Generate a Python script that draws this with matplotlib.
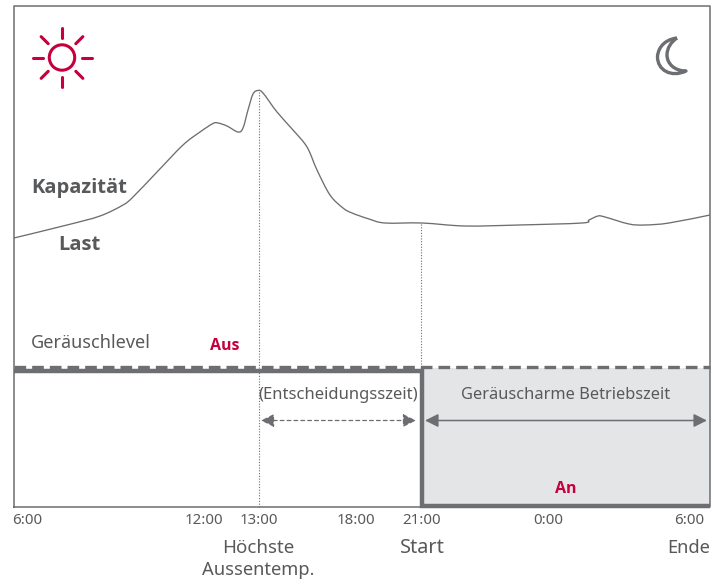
import numpy as np
import matplotlib

matplotlib.use('Agg')
import matplotlib.pyplot as plt
from matplotlib.patches import Circle, PathPatch
from matplotlib.path import Path

plt.rcParams['font.family'] = ['Noto Sans', 'DejaVu Sans']

# everything in pixels
curve_x = [14, 67, 100, 123, 133, 157, 183, 200, 213, 218, 227, 238, 243, 248,
           253, 258, 263, 277, 293, 307, 317, 330, 343, 352, 369, 385,
           422, 465, 519, 582, 589, 598, 605, 629, 645, 669, 710]
curve_y = [238, 225, 216, 205, 197, 172, 145, 132, 123.5, 123, 126, 132, 128, 110,
           94, 90.5, 93, 112, 130, 147, 170, 195, 208, 213, 219, 223,
           223, 226, 225, 223, 220, 216, 217, 224, 225, 223, 215]

level_x = [14, 421.8, 421.8, 710]
level_y = [370.5, 370.5, 506.3, 506.3]

tick_labels = ['6:00', '12:00', '13:00', '18:00', '21:00', '0:00', '6:00']
tick_pos = [27, 204, 259, 356, 422, 548, 689]

gray = '#6d6e71'
text_gray = '#58595b'
red = '#c5003d'


def smooth_path(xs, ys):
    # bezier through the read points so the curve has no corners
    pts = np.column_stack([xs, ys])
    verts = [pts[0]]
    codes = [Path.MOVETO]
    for i in range(len(pts) - 1):
        prev_pt = pts[max(i - 1, 0)]
        next_pt = pts[min(i + 2, len(pts) - 1)]
        verts += [pts[i] + (pts[i + 1] - prev_pt) / 6, pts[i + 1] - (next_pt - pts[i]) / 6, pts[i + 1]]
        codes += [Path.CURVE4] * 3
    return Path(verts, codes)


fig = plt.figure(figsize=(7.12, 5.85), dpi=100)
ax = fig.add_axes([0, 0, 1, 1])
ax.set_xlim(0, 712)
ax.set_ylim(585, 0)
ax.axis('off')

# quiet period background
ax.fill_between([421, 710], 368, 505, color='#e4e5e7', lw=0, zorder=1)

# frame
ax.plot([14, 14, 710, 710, 14], [507, 6, 6, 507, 507], color=gray, lw=1.1, zorder=2)

# time markers
ax.plot([259, 259], [92, 507], color=gray, lw=0.8, ls=(0, (1, 1.5)), zorder=2)
ax.plot([421, 421], [224, 366], color=gray, lw=0.8, ls=(0, (1, 1.5)), zorder=2)

ax.add_patch(PathPatch(smooth_path(curve_x, curve_y), fc='none', ec=gray, lw=0.95, zorder=3))

# noise level
ax.plot([14, 710], [366.5, 366.5], color=gray, lw=2.4, ls=(0, (3.5, 1.8)), zorder=3)
ax.plot(level_x, level_y, color=gray, lw=3.2, solid_joinstyle='miter', solid_capstyle='butt', zorder=4)

# arrows
ax.annotate('', xy=(261, 420.5), xytext=(416, 420.5), zorder=5,
            arrowprops=dict(arrowstyle='<|-|>,head_length=0.8,head_width=0.4', color=gray, lw=0.9,
                            ls=(0, (3, 2.5)), shrinkA=0, shrinkB=0))
ax.annotate('', xy=(425, 420.5), xytext=(707, 420.5), zorder=5,
            arrowprops=dict(arrowstyle='<|-|>,head_length=0.8,head_width=0.4', color=gray, lw=1.1,
                            shrinkA=0, shrinkB=0))

# sun
ax.add_patch(Circle((62, 57.5), 12.7, fill=False, ec=red, lw=2.2, zorder=5))
for deg in range(0, 360, 45):
    a = np.radians(deg)
    ax.plot([62 + 19.5 * np.cos(a), 62 + 29.5 * np.cos(a)], [57.5 + 19.5 * np.sin(a), 57.5 + 29.5 * np.sin(a)],
            color=red, lw=2.2, solid_capstyle='round', zorder=5)

# moon
moon = Path([(677, 38), (661, 40), (657.5, 52), (657.5, 57), (657.5, 70), (671, 78), (686, 71),
             (675, 71), (667, 64), (667, 55), (667, 48), (671, 42), (677, 38)],
            [Path.MOVETO] + [Path.CURVE4] * 12)
ax.add_patch(PathPatch(moon, fc='none', ec=gray, lw=2.4, joinstyle='round', zorder=5))

# labels
bold_font = ['Open Sans', 'DejaVu Sans']
ax.text(79.5, 188, 'Kapazität', fontsize=14.5, fontweight='bold', family=bold_font, color=text_gray,
        ha='center', va='center')
ax.text(79, 244.5, 'Last', fontsize=14.5, fontweight='bold', family=bold_font, color=text_gray,
        ha='center', va='center')
ax.text(90.5, 342.5, 'Geräuschlevel', fontsize=13, color=text_gray, ha='center', va='center')
ax.text(224.5, 346, 'Aus', fontsize=11.5, fontweight='bold', family=bold_font, color=red, ha='center', va='center')
ax.text(338, 395, '(Entscheidungsszeit)', fontsize=12, color=text_gray, ha='center', va='center')
ax.text(566, 395, 'Geräuscharme Betriebszeit', fontsize=11.8, color=text_gray, ha='center', va='center')
ax.text(566, 489, 'An', fontsize=11.5, fontweight='bold', family=bold_font, color=red, ha='center', va='center')

for pos, label in zip(tick_pos, tick_labels):
    ax.text(pos, 520.5, label, fontsize=10.8, color=text_gray, ha='center', va='center')

ax.text(258, 548, 'Höchste', fontsize=13.5, color=text_gray, ha='center', va='center')
ax.text(258, 570, 'Aussentemp.', fontsize=13.2, color=text_gray, ha='center', va='center')
ax.text(422, 548, 'Start', fontsize=14.3, color=text_gray, ha='center', va='center')
ax.text(689, 548, 'Ende', fontsize=13.2, color=text_gray, ha='center', va='center')

fig.savefig('out.png', dpi=100)
